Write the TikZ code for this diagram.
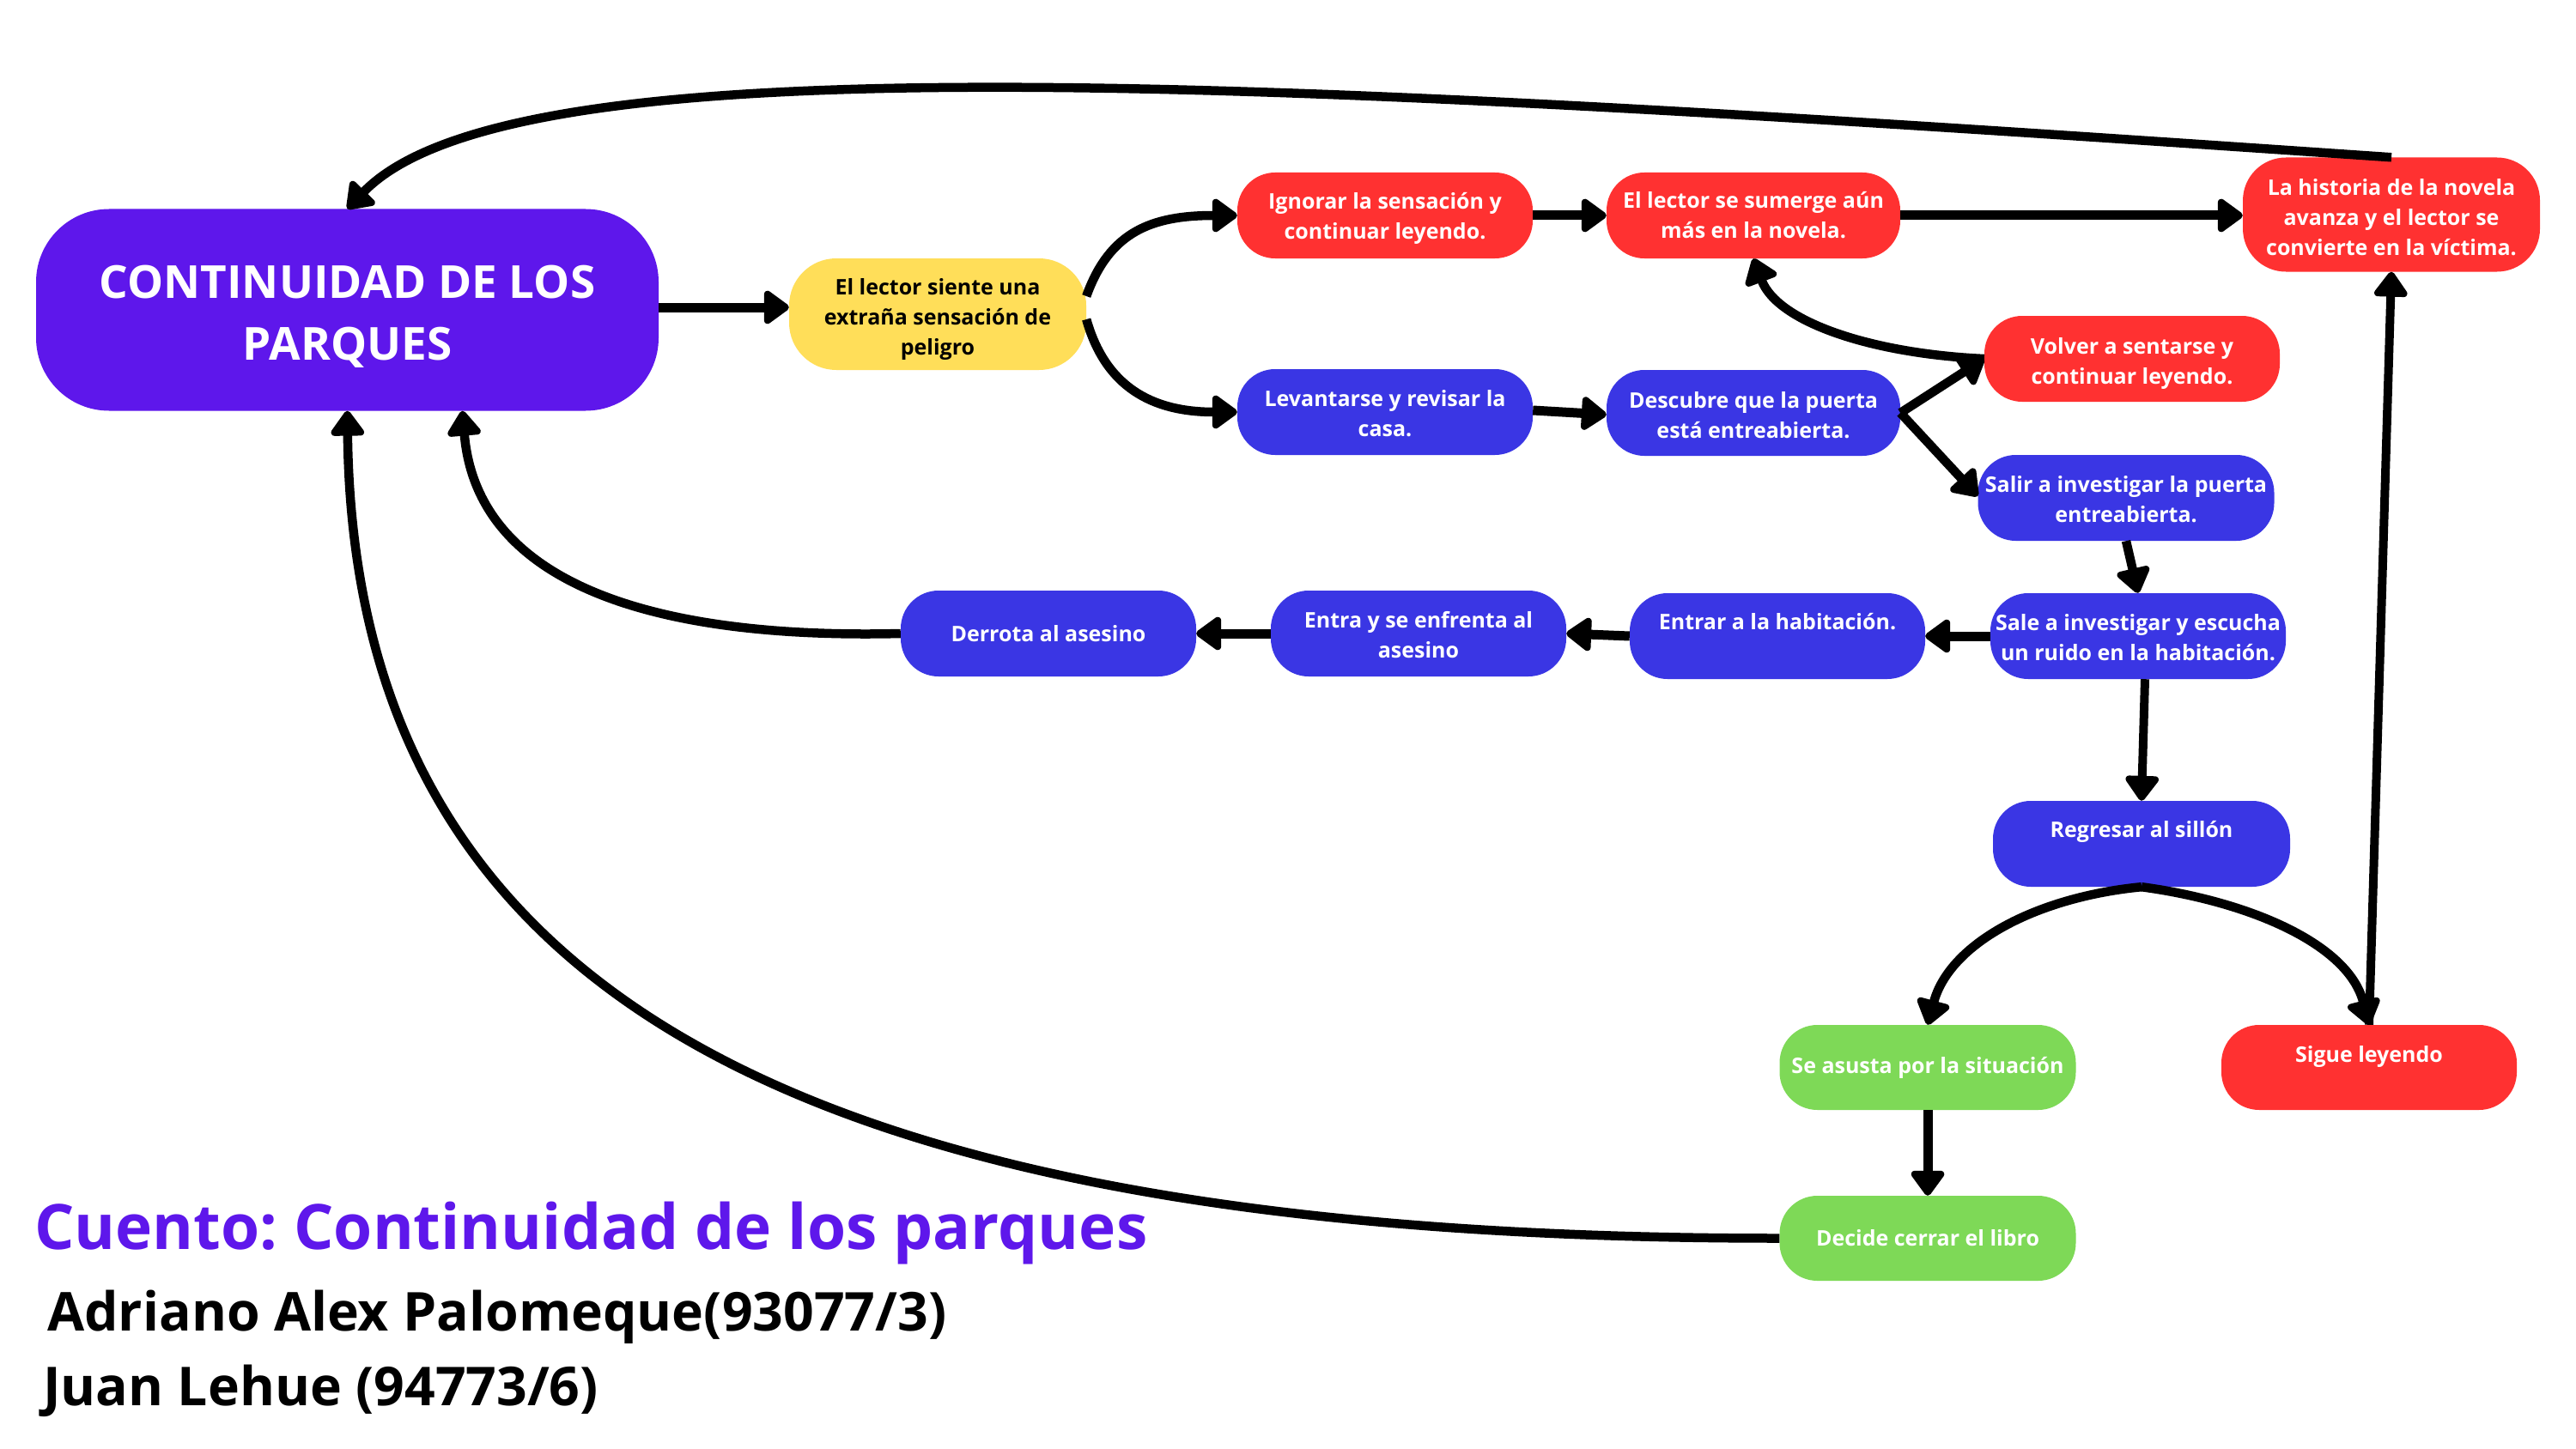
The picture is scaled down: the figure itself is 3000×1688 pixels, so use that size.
\documentclass[tikz,border=0pt]{standalone}
\usepackage{fontspec}
\setmainfont{Open Sans}
\frenchspacing
\usetikzlibrary{arrows.meta,calc}
\definecolor{cpurple}{HTML}{5E17EB}
\definecolor{cyellow}{HTML}{FFDE59}
\definecolor{cred}{HTML}{FF3131}
\definecolor{cblue}{HTML}{3A36E4}
\definecolor{cgreen}{HTML}{7ED957}
\newcommand{\fl}[1][26pt]{\rule{0pt}{#1}}
\begin{document}
\begin{tikzpicture}[x=1pt,y=-1pt,
  box/.style={rectangle, rounded corners=44pt, minimum width=344pt, minimum height=100pt,
    inner sep=0pt, align=center, text=white, font=\bfseries\fontsize{25}{35}\selectfont},
  redbox/.style={box, fill=cred},
  bluebox/.style={box, fill=cblue},
  greenbox/.style={box, fill=cgreen},
  arr/.style={line width=11pt, -{Triangle[length=32pt,width=44pt,round]}},
  arrc/.style={line width=10.5pt, -{Triangle[length=32pt,width=44pt,round]}},
  arrt/.style={line width=10pt, -{Triangle[length=32pt,width=44pt,round]}},
  caption/.style={anchor=base west, inner sep=0pt, font=\bfseries\fontsize{62.5}{70}\selectfont}
]
\fill[white] (0,0) rectangle (3000,1688);
\useasboundingbox (0,0) rectangle (3000,1688);

% nodes
\node[rectangle, rounded corners=85pt, minimum width=725pt, minimum height=235pt, inner sep=0pt,
  fill=cpurple, text=white, align=center, font=\bfseries\fontsize{53}{72}\selectfont]
  (main) at (404.5,361) {\rule{0pt}{55pt}CONTINUIDAD DE LOS\\PARQUES};
\node[box, fill=cyellow, text=black, minimum width=346pt, minimum height=130pt, rounded corners=55pt]
  (yellow) at (1092,366) {\fl[31pt]El lector siente una\\extraña sensación de\\peligro};
\node[redbox] (ign) at (1613,251) {\fl[26pt]Ignorar la sensación y\\continuar leyendo.};
\node[redbox, minimum width=342pt] (sum) at (2042,251) {El lector se sumerge aún\\más en la novela.};
\node[redbox, minimum width=346pt, minimum height=133pt, rounded corners=50pt]
  (hist) at (2785,250) {\fl[26pt]La historia de la novela\\avanza y el lector se\\convierte en la víctima.};
\node[redbox] (volver) at (2483,418) {\fl[30pt]Volver a sentarse y\\continuar leyendo.};
\node[bluebox] (lev) at (1613,480) {\fl[22pt]Levantarse y revisar la\\casa.};
\node[bluebox, minimum width=342pt] (desc) at (2042,481) {\fl[24pt]Descubre que la puerta\\está entreabierta.};
\node[bluebox, minimum width=345pt] (salir) at (2476,580) {\fl[22pt]Salir a investigar la puerta\\entreabierta.};
\node[bluebox] (sale) at (2490,741) {\fl[22pt]Sale a investigar y escucha\\un ruido en la habitación.};
\node[bluebox] (entrar) at (2070,741) {Entrar a la habitación.\\\mbox{}};
\node[bluebox] (entra) at (1652,738) {\fl[22pt]Entra y se enfrenta al\\asesino};
\node[bluebox] (derrota) at (1221,738) {Derrota al asesino};
\node[bluebox, minimum width=346pt] (regresar) at (2494,983) {Regresar al sillón\\\mbox{}};
\node[greenbox, minimum width=345pt, minimum height=99pt] (asusta) at (2245,1243.5) {Se asusta por la situación};
\node[redbox, minimum height=99pt] (sigue) at (2759,1243.5) {Sigue leyendo\\[-4pt]\mbox{}};
\node[greenbox, minimum width=345pt, minimum height=99pt] (decide) at (2245,1442.5) {Decide cerrar el libro};

% captions
\node[caption, text=cpurple, font=\bfseries\fontsize{73}{80}\selectfont] (title) at (40,1455) {Cuento: Continuidad de los parques};
\node[caption] (author1) at (55,1550) {Adriano Alex Palomeque(93077/3)};
\node[caption] (author2) at (50,1637) {Juan Lehue (94773/6)};

% connectors
\draw[arr] ($(main.east)+(0,-3)$) -- ($(yellow.west)+(0,-8)$);
\draw[arrc] ($(yellow.east)+(0,-21)$) .. controls +(27,-75) and +(-100,0) .. (ign.west);
\draw[arrc] ($(yellow.east)+(0,6)$) .. controls +(22,78) and +(-100,0) .. (lev.west);
\draw[arr] (ign.east) -- (sum.west);
\draw[arr] (sum.east) -- ($(hist.west)+(0,1)$);
\draw[arr] ($(lev.east)+(0,-2)$) -- ($(desc.west)+(0,2)$);
\draw[arrc] (desc.east) -- (volver.west);
\draw[arrc] (desc.east) -- ($(salir.west)+(0,-2)$);
\draw[arrc] (volver.west) .. controls +(-131,-6) and +(28,74) .. (sum.south);
\draw[arrc] (hist.north) .. controls +(-1282,-88) and +(196,-203) .. (main.north);
\draw[arrc] (derrota.west) .. controls +(-289,7) and +(17,201) .. ($(main.south)+(134,0)$);
\draw[arrc] (decide.west) .. controls +(-1160,0) and +(8,670) .. (main.south);
\draw[arr] (sale.west) -- (entrar.east);
\draw[arr] (entrar.west) -- (entra.east);
\draw[arr] (entra.west) -- (derrota.east);
\draw[arrc] (salir.south) -- (sale.north);
\draw[arrt] ($(sale.south)+(8,0)$) -- (regresar.north);
\draw[arrc] (regresar.south) .. controls +(-124,12) and +(25,-94) .. (asusta.north);
\draw[arrc] (regresar.south) .. controls +(126,17) and +(-24,-94) .. (sigue.north);
\draw[arrt] (sigue.north) -- (hist.south);
\draw[arr] (asusta.south) -- (decide.north);
\end{tikzpicture}
\end{document}
